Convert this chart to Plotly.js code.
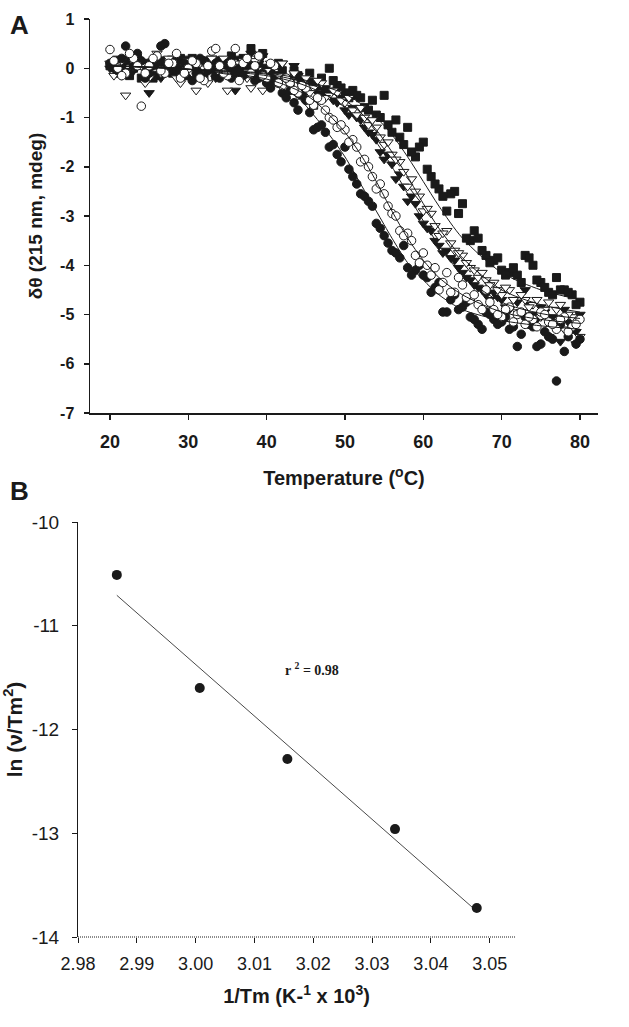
<!DOCTYPE html>
<html>
<head>
<meta charset="utf-8">
<script src="https://cdn.plot.ly/plotly-3.0.1.min.js"></script>
<style>html,body{margin:0;padding:0;background:#fff;}#chart{width:629px;height:1027px;}</style>
</head>
<body>
<div id="chart"></div>
<script>
// ---------- Panel A data: temperature (°C) vs δθ (215 nm, mdeg) ----------
const tempA = [20,21,22,23,24,25,26,27,28,29,30,31,32,33,34,35,36,37,38,39,40,41,42,43,44,45,46,47,48,49,50,51,52,53,54,55,56,57,58,59,60,61,62,63,64,65,66,67,68,69,70,71,72,73,74,75,76,77,78,79,80];
const tempAhalf = [20.5,21.5,22.5,23.5,24.5,25.5,26.5,27.5,28.5,29.5,30.5,31.5,32.5,33.5,34.5,35.5,36.5,37.5,38.5,39.5,40.5,41.5,42.5,43.5,44.5,45.5,46.5,47.5,48.5,49.5,50.5,51.5,52.5,53.5,54.5,55.5,56.5,57.5,58.5,59.5,60.5,61.5,62.5,63.5,64.5,65.5,66.5,67.5,68.5,69.5,70.5,71.5,72.5,73.5,74.5,75.5,76.5,77.5,78.5,79.5];

const filledCircles = [0.1,-0.05,0.45,0.05,0.15,-0.1,0.1,0.5,0.0,-0.15,0.05,-0.1,0.15,0.0,-0.2,0.1,-0.05,-0.15,0.05,-0.2,-0.3,-0.25,-0.5,-0.45,-0.85,-0.65,-1.25,-1.15,-1.6,-1.75,-1.6,-2.2,-2.55,-2.7,-3.15,-3.4,-3.7,-3.85,-4.05,-4.1,-4.2,-4.55,-4.35,-4.95,-4.6,-4.85,-5.05,-5.2,-4.95,-5.1,-5.15,-5.3,-5.65,-5.05,-5.25,-5.6,-5.45,-6.35,-5.75,-5.3,-5.5];
const filledCirclesHalf = [0.0,0.2,-0.1,0.3,-0.2,0.05,0.45,-0.05,0.15,0.1,-0.25,0.2,-0.05,0.1,0.05,-0.2,0.0,0.1,-0.25,-0.1,-0.4,-0.3,-0.6,-0.7,-0.55,-0.9,-1.2,-1.3,-1.55,-1.9,-2.05,-2.35,-2.6,-2.8,-3.25,-3.55,-3.75,-3.6,-4.2,-4.0,-4.25,-4.45,-4.95,-4.7,-4.9,-4.75,-5.1,-5.3,-5.0,-5.2,-5.05,-5.25,-5.4,-5.2,-5.65,-5.35,-5.5,-5.2,-5.45,-5.6];

const openCircles = [0.38,0.0,-0.1,0.2,-0.77,0.05,0.25,-0.1,0.1,-0.2,0.0,0.1,-0.25,0.35,0.05,-0.15,0.4,0.1,-0.1,0.25,-0.2,0.05,-0.35,-0.3,-0.5,-0.4,-0.75,-0.65,-1.0,-1.2,-1.25,-1.45,-1.9,-2.0,-2.45,-2.55,-2.95,-3.3,-3.35,-3.8,-3.75,-4.2,-4.5,-4.15,-4.55,-4.4,-4.7,-4.8,-4.5,-4.9,-5.05,-4.85,-5.0,-5.2,-5.1,-4.95,-5.15,-5.3,-5.05,-5.25,-5.1];
const openCirclesHalf = [0.15,-0.15,0.3,0.05,-0.1,0.2,-0.05,0.1,0.3,-0.1,0.15,-0.2,0.05,0.4,-0.1,0.1,-0.25,0.2,0.05,-0.15,0.1,-0.3,-0.2,-0.45,-0.35,-0.65,-0.6,-0.85,-1.05,-1.15,-1.5,-1.6,-1.85,-2.2,-2.35,-2.8,-3.0,-3.4,-3.5,-3.95,-4.0,-4.05,-4.35,-4.55,-4.25,-4.65,-4.6,-4.9,-4.75,-5.0,-4.9,-5.15,-4.95,-5.05,-5.25,-5.0,-5.2,-5.1,-5.35,-5.2];

const filledTriangles = [0.0,0.2,0.15,-0.05,0.1,-0.5,0.05,-0.1,0.2,0.0,-0.15,0.1,-0.05,0.2,-0.1,0.05,-0.45,0.15,0.3,0.1,-0.1,-0.25,0.1,-0.2,-0.15,-0.35,-0.3,-0.55,-0.45,-0.7,-0.85,-0.8,-1.05,-1.3,-1.45,-1.85,-1.95,-2.15,-2.7,-2.75,-3.15,-3.3,-3.6,-3.7,-3.9,-4.15,-4.3,-4.45,-4.6,-4.55,-4.7,-4.9,-4.75,-4.5,-5.0,-4.85,-5.45,-5.2,-4.9,-5.3,-5.0];
const filledTrianglesHalf = [0.1,-0.15,0.2,0.05,-0.05,0.15,-0.2,0.1,-0.05,0.2,0.0,-0.1,0.15,-0.2,0.1,0.0,0.2,-0.1,0.05,0.25,-0.05,0.05,-0.2,0.05,-0.3,-0.25,-0.5,-0.4,-0.65,-0.6,-0.95,-1.0,-1.2,-1.35,-1.7,-1.75,-2.25,-2.4,-2.6,-3.0,-3.25,-3.5,-3.75,-3.85,-4.05,-4.25,-4.4,-4.5,-4.7,-4.65,-4.85,-4.7,-4.95,-4.8,-5.1,-4.95,-5.05,-5.55,-5.15,-5.35];

const openTriangles = [0.1,-0.1,-0.55,0.25,0.05,-0.2,0.3,-0.05,0.1,-0.3,0.15,-0.45,0.0,0.2,-0.1,-0.45,0.05,0.15,-0.4,0.2,-0.05,-0.3,0.1,-0.25,-0.55,-0.2,-0.4,-0.3,-0.55,-0.5,-0.7,-0.85,-0.8,-1.15,-1.2,-1.55,-1.75,-1.9,-2.4,-2.5,-2.9,-2.95,-3.4,-3.3,-3.7,-3.8,-4.05,-4.25,-4.3,-4.35,-4.6,-4.5,-4.95,-4.7,-4.8,-5.05,-4.75,-4.9,-5.3,-5.05,-5.45];
const openTrianglesHalf = [-0.15,0.15,-0.05,0.1,-0.3,0.05,-0.1,0.2,-0.2,0.05,-0.1,0.1,-0.3,0.05,0.2,-0.15,0.1,-0.2,0.15,-0.45,0.1,-0.15,-0.4,-0.1,-0.35,-0.5,-0.25,-0.6,-0.45,-0.65,-0.6,-0.95,-1.0,-1.05,-1.4,-1.5,-1.85,-2.1,-2.25,-2.6,-2.85,-3.2,-3.35,-3.55,-3.75,-3.95,-4.1,-4.15,-4.4,-4.5,-4.45,-4.7,-4.6,-4.85,-4.7,-4.9,-5.15,-4.8,-5.0,-5.6];

const filledSquares = [0.05,-0.1,0.15,0.0,-0.2,0.1,-0.15,0.05,-0.1,0.2,-0.05,0.1,-0.2,0.0,0.15,-0.1,0.05,0.2,0.4,0.1,0.0,-0.15,-0.05,-0.3,-0.15,-0.45,-0.75,-0.2,0.0,-0.35,-0.5,-0.45,-0.6,-0.85,-0.95,-0.55,-1.3,-1.4,-1.2,-1.8,-1.5,-2.2,-2.45,-2.9,-2.5,-2.75,-3.5,-3.45,-3.8,-3.9,-4.1,-4.15,-4.2,-3.8,-4.0,-4.35,-4.55,-4.25,-4.5,-4.6,-4.75];
const filledSquaresHalf = [0.1,0.0,-0.15,0.2,0.05,-0.2,0.15,-0.05,0.1,-0.15,0.2,-0.05,0.05,-0.15,0.1,0.25,-0.1,0.05,-0.05,0.3,-0.1,0.1,-0.25,-0.05,-0.3,-0.1,-0.35,-0.5,-0.25,-0.4,-0.6,-0.55,-0.8,-0.65,-1.0,-1.15,-1.05,-1.55,-1.7,-1.6,-2.05,-2.35,-2.6,-2.55,-2.95,-3.45,-3.3,-3.7,-3.95,-3.85,-4.2,-4.05,-4.35,-3.85,-4.3,-4.45,-4.6,-4.5,-4.55,-4.8];

// fitted curves
const fitTemp = [20,30,40,44,46,48,50,52,54,56,58,60,62,65,70,75,80];
const fitFilledCircles = [0.05,-0.02,-0.28,-0.6,-0.95,-1.35,-1.8,-2.35,-2.9,-3.45,-3.95,-4.3,-4.6,-4.9,-5.12,-5.23,-5.3];
const fitOpenCircles = [0.05,-0.02,-0.22,-0.45,-0.65,-0.95,-1.3,-1.75,-2.3,-2.9,-3.45,-3.9,-4.25,-4.6,-4.95,-5.1,-5.18];
const fitFilledTriangles = [0.05,-0.02,-0.15,-0.3,-0.42,-0.58,-0.8,-1.1,-1.5,-2.0,-2.55,-3.1,-3.6,-4.2,-4.75,-4.98,-5.08];
const fitOpenTriangles = [0.05,-0.02,-0.12,-0.25,-0.35,-0.48,-0.65,-0.9,-1.25,-1.7,-2.2,-2.75,-3.25,-3.85,-4.5,-4.8,-4.95];
const fitFilledSquares = [0.05,-0.02,-0.1,-0.2,-0.3,-0.4,-0.52,-0.72,-1.0,-1.35,-1.8,-2.3,-2.8,-3.45,-4.15,-4.5,-4.7];

const xTicksA = [20,30,40,50,60,70,80];
const yTicksA = [-7,-6,-5,-4,-3,-2,-1,0,1];

// ---------- Panel B data: 1/Tm vs ln(v/Tm^2) ----------
const invTm = [2.9866, 3.0007, 3.0156, 3.0339, 3.0478];
const lnVTm2 = [-10.51, -11.60, -12.285, -12.96, -13.72];
const xTicksB = [2.98,2.99,3.00,3.01,3.02,3.03,3.04,3.05];
const yTicksB = [-14,-13,-12,-11,-10];
const r2Label = "r <sup>2</sup> = 0.98";

// linear regression through panel B points
const n = invTm.length;
const mx = invTm.reduce((a,b)=>a+b,0)/n;
const my = lnVTm2.reduce((a,b)=>a+b,0)/n;
let sxy=0, sxx=0;
for (let i=0;i<n;i++){ sxy += (invTm[i]-mx)*(lnVTm2[i]-my); sxx += (invTm[i]-mx)**2; }
const slope = sxy/sxx, icpt = my - slope*mx;
const fitXB = [Math.min(...invTm), Math.max(...invTm)];
const fitYB = fitXB.map(x => icpt + slope*x);

const fontA = "Liberation Sans, Arial, sans-serif";
const ink = "#1a1a1a";

function pts(x, y, symbol, filled, size) {
  return {
    x: x, y: y, type: "scatter", mode: "markers", xaxis: "x", yaxis: "y",
    marker: { symbol: symbol, size: size, color: filled ? ink : "#ffffff", line: { color: ink, width: 1 } },
    hoverinfo: "x+y", showlegend: false
  };
}
function fit(y) {
  return { x: fitTemp, y: y, type: "scatter", mode: "lines", xaxis: "x", yaxis: "y",
    line: { color: ink, width: 1, shape: "spline", smoothing: 0.8 }, showlegend: false, hoverinfo: "skip" };
}

const traces = [
  pts(tempA, filledSquares, "square", true, 8),
  pts(tempAhalf, filledSquaresHalf, "square", true, 8),
  pts(tempA, filledTriangles, "triangle-down", true, 9),
  pts(tempAhalf, filledTrianglesHalf, "triangle-down", true, 9),
  pts(tempA, openTriangles, "triangle-down", false, 9),
  pts(tempAhalf, openTrianglesHalf, "triangle-down", false, 9),
  pts(tempA, filledCircles, "circle", true, 8.5),
  pts(tempAhalf, filledCirclesHalf, "circle", true, 8.5),
  pts(tempA, openCircles, "circle", false, 8.5),
  pts(tempAhalf, openCirclesHalf, "circle", false, 8.5),
  fit(fitFilledCircles), fit(fitOpenCircles), fit(fitFilledTriangles), fit(fitOpenTriangles), fit(fitFilledSquares),
  { x: fitXB, y: fitYB, type: "scatter", mode: "lines", xaxis: "x2", yaxis: "y2",
    line: { color: ink, width: 0.8 }, showlegend: false, hoverinfo: "skip" },
  { x: invTm, y: lnVTm2, type: "scatter", mode: "markers", xaxis: "x2", yaxis: "y2",
    marker: { symbol: "circle", size: 10, color: ink }, showlegend: false }
];

const W = 629, H = 1027;
const layout = {
  width: W, height: H,
  margin: { l: 0, r: 0, t: 0, b: 0 },
  paper_bgcolor: "#ffffff", plot_bgcolor: "#ffffff",
  showlegend: false,
  xaxis: {
    domain: [90/W, 598/W], anchor: "y", range: [17.45, 82.3],
    tickvals: xTicksA, ticktext: xTicksA.map(String),
    ticks: "outside", ticklen: 5, tickwidth: 1.5, tickcolor: ink,
    showline: true, linecolor: ink, linewidth: 1.5, showgrid: false, zeroline: false,
    tickfont: { family: fontA, size: 18, color: ink, weight: "bold" }, ticklabelstandoff: 7,
    title: { text: "Temperature (<sup>o</sup>C)", font: { family: fontA, size: 20, color: ink, weight: "bold" }, standoff: 20 },
    automargin: false
  },
  yaxis: {
    domain: [1 - 413/H, 1 - 19/H], anchor: "x", range: [-7, 1],
    tickvals: yTicksA, ticktext: yTicksA.map(String),
    ticks: "outside", ticklen: 5, tickwidth: 1.5, tickcolor: ink,
    showline: true, linecolor: ink, linewidth: 1.5, showgrid: false, zeroline: false,
    tickfont: { family: fontA, size: 16, color: ink, weight: "bold" }, ticklabelstandoff: 6,
    title: { text: "δθ (215 nm, mdeg)", font: { family: fontA, size: 19, color: ink, weight: "bold" }, standoff: 12 },
    automargin: false
  },
  xaxis2: {
    domain: [78/W, 515/W], anchor: "y2", range: [2.98, 3.0543],
    tickvals: xTicksB, ticktext: xTicksB.map(v => v.toFixed(2)),
    ticks: "outside", ticklen: 5, tickwidth: 1, tickcolor: ink,
    showline: false, showgrid: false, zeroline: false,
    tickfont: { family: fontA, size: 18, color: ink }, ticklabelstandoff: 5,
    title: { text: "1/Tm (K-<sup>1</sup> x 10<sup>3</sup>)", font: { family: fontA, size: 20, color: ink, weight: "bold" }, standoff: 16 },
    automargin: false
  },
  yaxis2: {
    domain: [1 - 937/H, 1 - 522/H], anchor: "x2", range: [-14, -10],
    tickvals: yTicksB, ticktext: yTicksB.map(String),
    ticks: "outside", ticklen: 5, tickwidth: 1, tickcolor: ink,
    showline: true, linecolor: ink, linewidth: 1, showgrid: false, zeroline: false,
    tickfont: { family: fontA, size: 19, color: ink }, ticklabelstandoff: 9,
    title: { text: "ln (ν/Tm<sup>2</sup>)", font: { family: fontA, size: 21, color: ink, weight: "bold" }, standoff: 14 },
    automargin: false
  },
  shapes: [
    { type: "line", xref: "x2 domain", yref: "y2 domain", x0: 0, x1: 1, y0: 0, y1: 0,
      line: { color: ink, width: 1, dash: "1px,1px" } }
  ],
  annotations: [
    { text: "<b>A</b>", xref: "paper", yref: "paper", x: 8/W, y: 1 - 25/H, xanchor: "left", yanchor: "middle",
      showarrow: false, font: { family: fontA, size: 26, color: ink } },
    { text: "<b>B</b>", xref: "paper", yref: "paper", x: 8/W, y: 1 - 491/H, xanchor: "left", yanchor: "middle",
      showarrow: false, font: { family: fontA, size: 26, color: ink } },
    { text: r2Label, xref: "x2", yref: "y2", x: 3.0198, y: -11.42, xanchor: "center", yanchor: "middle",
      showarrow: false, font: { family: "Liberation Serif, Times New Roman, serif", size: 14, color: ink, weight: "bold" } }
  ]
};

Plotly.newPlot("chart", traces, layout, { staticPlot: true, displayModeBar: false });
</script>
</body>
</html>
